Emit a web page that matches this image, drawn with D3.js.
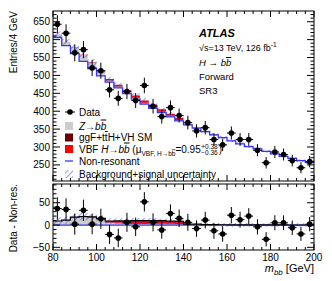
<!DOCTYPE html>
<html lang="en">
<head>
<meta charset="UTF-8">
<title>ATLAS VBF H->bb SR3</title>
<script src="https://d3js.org/d3.v7.min.js"></script>
<style>
  body { margin: 0; background: #fff; }
  svg text { font-family: "Liberation Sans", Arial, sans-serif; fill: #000; }
  .frame { fill: none; stroke: #000; stroke-width: 1; }
</style>
</head>
<body>
<script>
// bin centres (4 GeV bins from 80 to 200)
const binCenters = [82, 86, 90, 94, 98, 102, 106, 110, 114, 118, 122, 126, 130, 134, 138,
                    142, 146, 150, 154, 158, 162, 166, 170, 174, 178, 182, 186, 190, 194, 198];
const dataCounts = [643, 618, 563, 572, 521, 513, 460, 436, 455, 430, 472, 414, 385, 410, 388,
                    368, 345, 354, 321, 306, 339, 321, 321, 291, 256, 286, 279, 262, 242, 259];
const nonRes     = [606, 583, 561, 539, 519, 499, 481, 465, 449, 434, 420, 408, 396, 384, 373,
                    362, 353, 343, 334, 326, 317, 309, 301, 295, 288, 281, 274, 268, 262, 257];
const zbb        = [9, 11, 17, 18, 17, 12, 5, 4, 3, 3, 2.5, 2, 2, 2, 1.5,
                    1, 1, 0.5, 0.5, 0.5, 0.3, 0.3, 0.3, 0.2, 0.2, 0.2, 0.2, 0.1, 0.1, 0.1];
const ggfSM      = [0, 0, 0.2, 0.3, 0.5, 0.8, 1, 1.2, 1.3, 1.4, 1.4, 1.3, 1.2, 1, 0.8,
                    0.3, 0.3, 0.2, 0.1, 0, 0, 0, 0, 0, 0, 0, 0, 0, 0, 0];
const vbf        = [0, 0, 0.3, 0.5, 1, 2, 3, 4, 5, 5.5, 6, 6.5, 6.5, 6, 6,
                    0.7, 0.5, 0.3, 0.2, 0.1, 0, 0, 0, 0, 0, 0, 0, 0, 0, 0];
const uncert     = [8, 8, 8, 8, 8, 7, 6, 6, 6, 6, 6, 6, 5, 5, 5,
                    4, 4, 4, 4, 4, 4, 4, 4, 4, 4, 4, 4, 4, 4, 4];
const xTicks = [80, 100, 120, 140, 160, 180, 200];
const yMainTicks = [250, 300, 350, 400, 450, 500, 550, 600, 650];
const yRatioTicks = [-50, 0, 50];

const W = 332, H = 281;
const left = 53, right = 314;
const mainTop = 11, mainBot = 181, ratTop = 184, ratBot = 250;
const binW = 4;

const svg = d3.select("body").append("svg").attr("width", W).attr("height", H);

const defs = svg.append("defs");
const pat = defs.append("pattern").attr("id", "hatch")
    .attr("patternUnits", "userSpaceOnUse").attr("width", 4).attr("height", 4)
    .attr("patternTransform", "rotate(45)");
pat.append("line").attr("x1", 0).attr("y1", 0).attr("x2", 0).attr("y2", 4)
    .attr("stroke", "#3535ff").attr("stroke-width", 1);
defs.append("clipPath").attr("id", "clipMain").append("rect")
    .attr("x", left).attr("y", mainTop).attr("width", right - left).attr("height", mainBot - mainTop);
defs.append("clipPath").attr("id", "clipRat").append("rect")
    .attr("x", left).attr("y", ratTop).attr("width", right - left).attr("height", ratBot - ratTop);

const x = d3.scaleLinear().domain([80, 200]).range([left, right]);
const yMain = d3.scaleLinear().domain([205, 680]).range([mainBot, mainTop]);
const yRat = d3.scaleLinear().domain([-56, 92]).range([ratBot, ratTop]);

const bins = binCenters.map((c, i) => {
  const z = zbb[i], g = ggfSM[i], v = vbf[i];
  return { c, lo: c - binW / 2, hi: c + binW / 2, d: dataCounts[i], nr: nonRes[i],
           z, g, v, tot: z + g + v, u: uncert[i] };
});

// step helpers
function stepPts(f) {
  const pts = [];
  bins.forEach(b => { pts.push({ x: b.lo, y: f(b) }); pts.push({ x: b.hi, y: f(b) }); });
  return pts;
}
function band(g, ys, f0, f1, fill, clip) {
  const area = d3.area().x(p => x(p.x)).y0(p => ys(p.y0)).y1(p => ys(p.y1));
  const pts = [];
  bins.forEach(b => {
    pts.push({ x: b.lo, y0: f0(b), y1: f1(b) });
    pts.push({ x: b.hi, y0: f0(b), y1: f1(b) });
  });
  g.append("path").attr("d", area(pts)).attr("fill", fill).attr("clip-path", clip);
}
function stepLine(g, ys, f, color, w, clip) {
  const line = d3.line().x(p => x(p.x)).y(p => ys(p.y));
  g.append("path").attr("d", line(stepPts(f))).attr("fill", "none")
    .attr("stroke", color).attr("stroke-width", w).attr("clip-path", clip);
}

const cZ = "#cccccc", cGGF = "#6b0000", cVBF = "#ff0000", cBlue = "#3535ff";

// ---------- main panel ----------
const gMain = svg.append("g");
band(gMain, yMain, b => b.nr, b => b.nr + b.z, cZ, "url(#clipMain)");
band(gMain, yMain, b => b.nr + b.z, b => b.nr + b.z + b.g, cGGF, "url(#clipMain)");
band(gMain, yMain, b => b.nr + b.z + b.g, b => b.nr + b.tot, cVBF, "url(#clipMain)");
band(gMain, yMain, b => b.nr + b.tot - b.u, b => b.nr + b.tot + b.u, "url(#hatch)", "url(#clipMain)");
stepLine(gMain, yMain, b => b.nr, cBlue, 1.3, "url(#clipMain)");

function drawData(g, ys, f) {
  const pts = g.selectAll(".pt").data(bins).enter().append("g");
  pts.append("line").attr("x1", b => x(b.lo)).attr("x2", b => x(b.hi))
    .attr("y1", b => ys(f(b))).attr("y2", b => ys(f(b)))
    .attr("stroke", "#000").attr("stroke-width", 1);
  pts.append("line").attr("x1", b => x(b.c)).attr("x2", b => x(b.c))
    .attr("y1", b => ys(f(b) - Math.sqrt(b.d))).attr("y2", b => ys(f(b) + Math.sqrt(b.d)))
    .attr("stroke", "#000").attr("stroke-width", 1);
  pts.append("circle").attr("cx", b => x(b.c)).attr("cy", b => ys(f(b))).attr("r", 2.8).attr("fill", "#000");
}
drawData(gMain, yMain, b => b.d);

// ---------- ratio panel ----------
const gRat = svg.append("g");
band(gRat, yRat, b => 0, b => b.z, cZ, "url(#clipRat)");
band(gRat, yRat, b => b.z, b => b.z + b.g, cGGF, "url(#clipRat)");
band(gRat, yRat, b => b.z + b.g, b => b.tot, cVBF, "url(#clipRat)");
band(gRat, yRat, b => b.tot - b.u, b => b.tot + b.u, "url(#hatch)", "url(#clipRat)");
gRat.append("line").attr("x1", x(80)).attr("x2", x(200)).attr("y1", yRat(0)).attr("y2", yRat(0))
  .attr("stroke", cBlue).attr("stroke-width", 1.3);
stepLine(gRat, yRat, b => b.tot, "#000", 1.2, "url(#clipRat)");
drawData(gRat, yRat, b => b.d - b.nr);

// ---------- axes (ROOT style, ticks inside) ----------
function frameAxes(top, bot, ys, majors, minorStep, showX) {
  svg.append("rect").attr("class", "frame").attr("x", left).attr("y", top)
    .attr("width", right - left).attr("height", bot - top);
  const g = svg.append("g").attr("stroke", "#000").attr("stroke-width", 1);
  const [y0, y1] = ys.domain();
  const yMinors = d3.range(Math.ceil(y0 / minorStep) * minorStep, y1, minorStep);
  yMinors.forEach(v => {
    const major = v % 50 === 0;
    const len = major ? 7 : 3.5;
    g.append("line").attr("x1", left).attr("x2", left + len).attr("y1", ys(v)).attr("y2", ys(v));
    g.append("line").attr("x1", right).attr("x2", right - len).attr("y1", ys(v)).attr("y2", ys(v));
  });
  d3.range(80, 200.1, 4).forEach(v => {
    const major = v % 20 === 0;
    const len = major ? 6 : 3;
    g.append("line").attr("x1", x(v)).attr("x2", x(v)).attr("y1", bot).attr("y2", bot - len);
    g.append("line").attr("x1", x(v)).attr("x2", x(v)).attr("y1", top).attr("y2", top + len);
  });
  svg.append("g").selectAll("text").data(majors).enter().append("text")
    .attr("x", left - 3).attr("y", v => ys(v)).attr("dy", "0.35em")
    .attr("text-anchor", "end").attr("font-size", 10).text(v => v === -50 ? "\u221250" : v);
}
frameAxes(mainTop, mainBot, yMain, yMainTicks, 10);
frameAxes(ratTop, ratBot, yRat, yRatioTicks, 10);

svg.append("g").selectAll("text").data(xTicks).enter().append("text")
  .attr("x", v => x(v)).attr("y", 261).attr("text-anchor", "middle")
  .attr("font-size", 10).text(v => v);

// axis titles
svg.append("text").attr("transform", `translate(17,${mainTop}) rotate(-90)`)
  .attr("text-anchor", "end").attr("font-size", 10).text("Entries/4 GeV");
svg.append("text").attr("transform", `translate(17,${ratTop}) rotate(-90)`)
  .attr("text-anchor", "end").attr("font-size", 10).text("Data - Non-res.");
const xt = svg.append("text").attr("x", right).attr("y", 272).attr("text-anchor", "end").attr("font-size", 11);
xt.append("tspan").attr("font-style", "italic").text("m");
xt.append("tspan").attr("font-style", "italic").attr("font-size", 8).attr("dy", 3).text("bb");
xt.append("tspan").attr("dy", -3).text(" [GeV]");

// ---------- labels ----------
const lx = 199;
svg.append("text").attr("x", lx).attr("y", 37).attr("font-size", 11)
  .attr("font-weight", "bold").attr("font-style", "italic").text("ATLAS");
const t1 = svg.append("text").attr("x", lx).attr("y", 51).attr("font-size", 9);
t1.append("tspan").text("\u221As=13 TeV, 126 fb");
t1.append("tspan").attr("font-size", 6.5).attr("dy", -4).text("-1");
const t2 = svg.append("text").attr("x", lx).attr("y", 66).attr("font-size", 9.5).attr("font-style", "italic");
t2.append("tspan").text("H \u2192 b");
t2.append("tspan").style("text-decoration", "overline").text("b");
svg.append("text").attr("x", lx).attr("y", 80).attr("font-size", 9.5).text("Forward");
svg.append("text").attr("x", lx).attr("y", 94).attr("font-size", 9.5).text("SR3");

// ---------- legend ----------
const legX = 65, legW = 8, legTx = 79;
const rows = [112, 126, 137.5, 149, 161, 174];
// Data
svg.append("line").attr("x1", legX).attr("x2", legX + 10).attr("y1", rows[0]).attr("y2", rows[0]).attr("stroke", "#000");
svg.append("circle").attr("cx", legX + 5).attr("cy", rows[0]).attr("r", 2.8).attr("fill", "#000");
svg.append("text").attr("x", legTx).attr("y", rows[0]).attr("dy", "0.35em").attr("font-size", 10).text("Data");
// boxes
[[cZ, 1], [cGGF, 2], [cVBF, 3]].forEach(([c, r]) => {
  svg.append("rect").attr("x", legX).attr("y", rows[r] - 4).attr("width", legW).attr("height", 8).attr("fill", c);
});
const lz = svg.append("text").attr("x", legTx).attr("y", rows[1]).attr("dy", "0.35em").attr("font-size", 10).attr("font-style", "italic");
lz.append("tspan").text("Z\u2192b");
lz.append("tspan").style("text-decoration", "overline").text("b");
const lg = svg.append("text").attr("x", legTx).attr("y", rows[2]).attr("dy", "0.35em").attr("font-size", 10);
lg.append("tspan").text("ggF+t");
lg.append("tspan").style("text-decoration", "overline").text("t");
lg.append("tspan").text("H+VH SM");
const lv = svg.append("text").attr("x", legTx).attr("y", rows[3] + 3.5).attr("font-size", 10);
lv.append("tspan").text("VBF ");
lv.append("tspan").attr("font-style", "italic").text("H\u2192b");
lv.append("tspan").attr("font-style", "italic").style("text-decoration", "overline").text("b");
lv.append("tspan").text(" (\u03BC");
lv.append("tspan").attr("font-size", 6.5).attr("dy", 3).text("VBF, H\u2192b");
lv.append("tspan").attr("font-size", 6.5).style("text-decoration", "overline").text("b");
lv.append("tspan").attr("dy", -3).text("=0.95");
const endX = legTx + lv.node().getComputedTextLength();
svg.append("text").attr("x", endX + 0.5).attr("y", rows[3] - 0.5).attr("font-size", 6.5).text("+0.38");
svg.append("text").attr("x", endX + 0.5).attr("y", rows[3] + 6).attr("font-size", 6.5).text("\u22120.36");
svg.append("text").attr("x", endX + 18).attr("y", rows[3] + 3.5).attr("font-size", 10).text(")");
// non-resonant
svg.append("line").attr("x1", legX).attr("x2", legX + legW).attr("y1", rows[4]).attr("y2", rows[4])
  .attr("stroke", cBlue).attr("stroke-width", 1.3);
svg.append("text").attr("x", legTx).attr("y", rows[4]).attr("dy", "0.35em").attr("font-size", 10).text("Non-resonant");
// uncertainty
svg.append("rect").attr("x", legX).attr("y", rows[5] - 4).attr("width", legW).attr("height", 8).attr("fill", "url(#hatch)");
svg.append("text").attr("x", legTx).attr("y", rows[5]).attr("dy", "0.35em").attr("font-size", 10).text("Background+signal uncertainty");
</script>
</body>
</html>
